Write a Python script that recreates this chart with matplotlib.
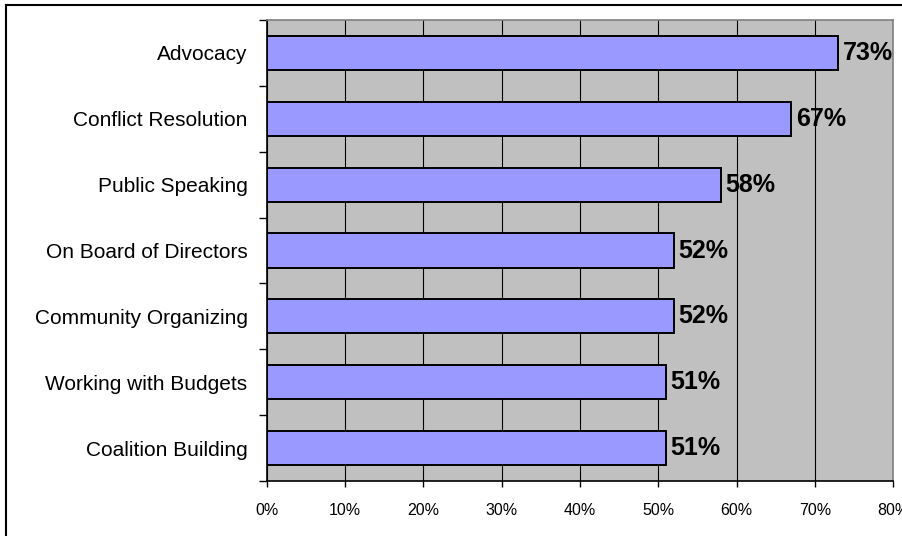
import matplotlib.pyplot as plt
import numpy as np
from matplotlib.lines import Line2D

plt.rcParams['font.family'] = ['Liberation Sans', 'DejaVu Sans']

# dados
categories = ["Advocacy", "Conflict Resolution", "Public Speaking",
              "On Board of Directors", "Community Organizing",
              "Working with Budgets", "Coalition Building"]
values = [73, 67, 58, 52, 52, 51, 51]
xticks = [0, 10, 20, 30, 40, 50, 60, 70, 80]
xtick_labels = ["0%", "10%", "20%", "30%", "40%", "50%", "60%", "70%", "80%"]

fig = plt.figure(figsize=(9.03, 5.36), dpi=100)
ax = fig.add_axes([267/903, 1 - 481/536, 626/903, 461/536])
ax.set_facecolor('#C0C0C0')

y = np.arange(len(categories))
ax.barh(y, values, height=0.52, color='#9999FF', edgecolor='black',
        linewidth=1.4, zorder=3)

for yi, v in zip(y, values):
    ax.text(v + 0.6, yi, f"{v}%", va='center', ha='left',
            fontsize=18, fontweight='bold', zorder=4)

ax.set_xlim(0, 80)
ax.set_ylim(len(categories) - 0.5, -0.5)

# grade vertical
ax.set_xticks(xticks)
ax.set_xticklabels(xtick_labels, fontsize=11.5)
ax.grid(axis='x', color='black', linewidth=0.8, zorder=1)
ax.set_axisbelow(True)
ax.tick_params(axis='x', direction='out', length=4.5, width=1, pad=11)

# ticks do eixo y nas divisas, rotulos no centro
ax.set_yticks(np.arange(len(categories) + 1) - 0.5)
ax.set_yticklabels([])
ax.set_yticks(y, minor=True)
ax.set_yticklabels(categories, minor=True, fontsize=15)
ax.tick_params(axis='y', which='major', direction='out', length=6, width=1)
ax.tick_params(axis='y', which='minor', length=0, pad=14)

ax.spines['left'].set_color('black')
ax.spines['left'].set_linewidth(1.2)
ax.spines['bottom'].set_color('black')
ax.spines['bottom'].set_linewidth(1.2)
ax.spines['top'].set_color('#808080')
ax.spines['top'].set_linewidth(1.2)
ax.spines['right'].set_color('#808080')
ax.spines['right'].set_linewidth(1.2)

# borda da figura (so esquerda e topo aparecem)
fig.add_artist(Line2D([6/903, 6/903], [0, 1 - 5/536], color='black', linewidth=1.5))
fig.add_artist(Line2D([6/903, 1], [1 - 5/536, 1 - 5/536], color='black', linewidth=1.5))

fig.savefig("out.png", dpi=100)
